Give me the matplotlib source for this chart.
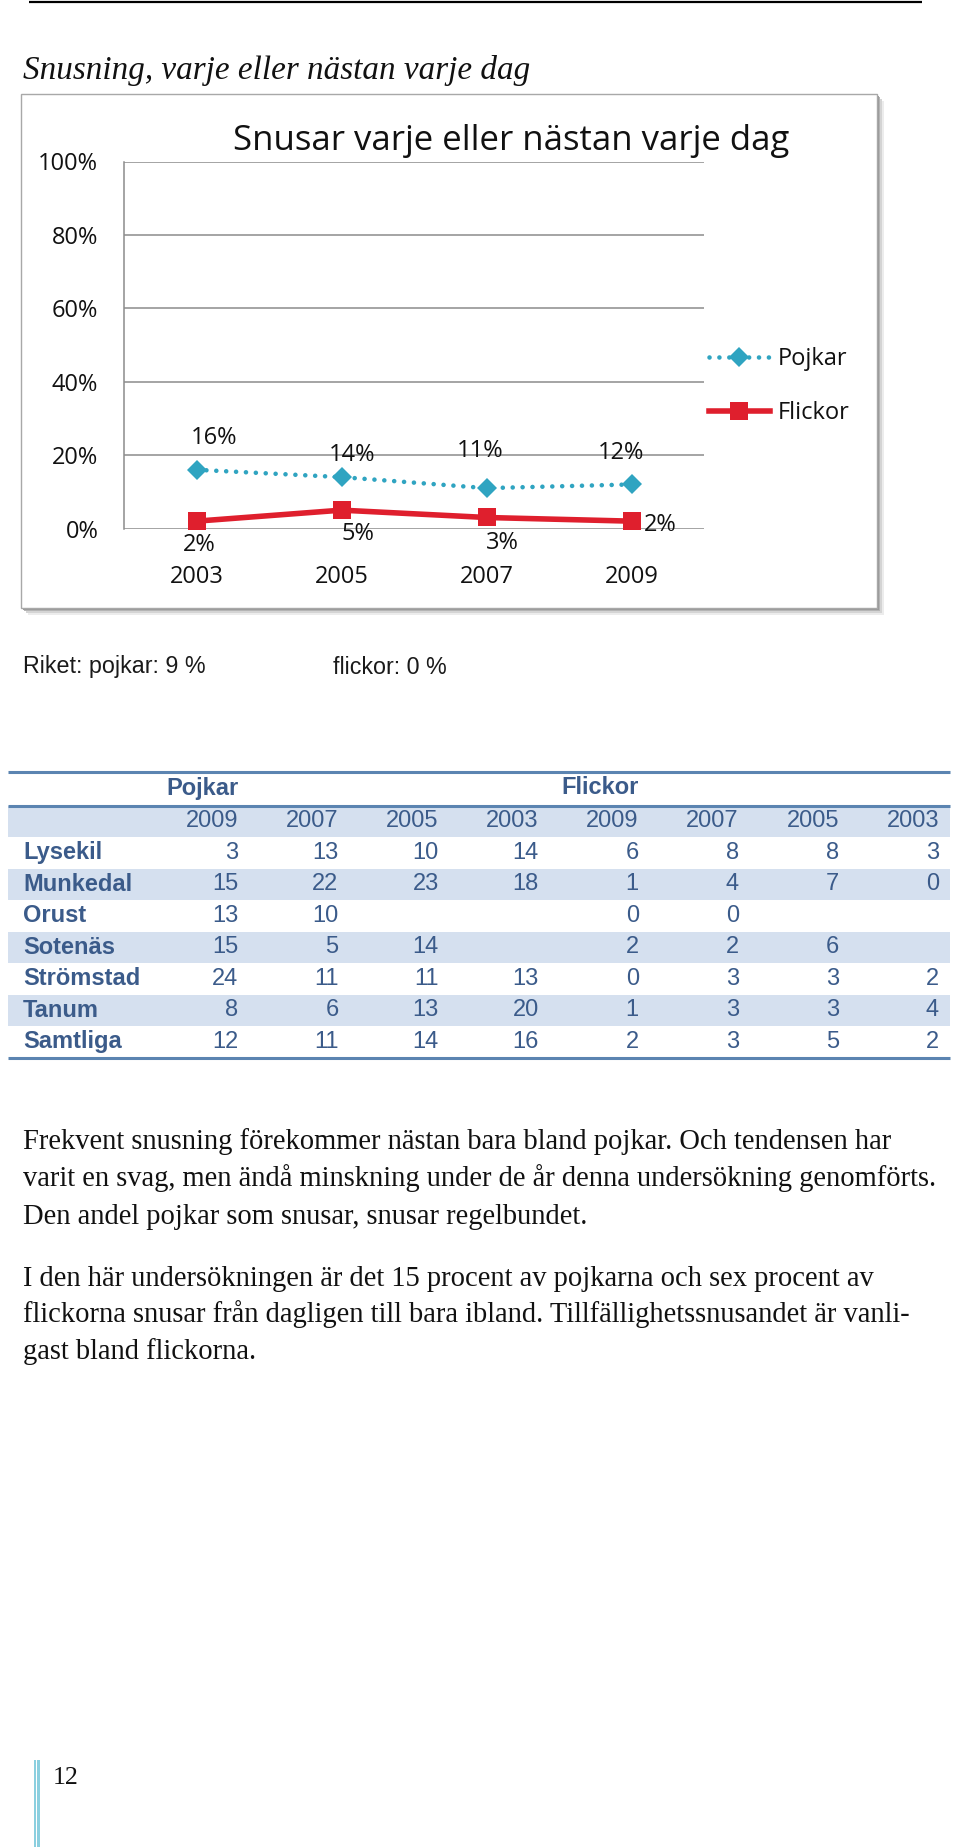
import matplotlib
matplotlib.use('Agg')
import matplotlib.pyplot as plt
from matplotlib.patches import Rectangle
from matplotlib.ticker import PercentFormatter

W, H, DPI = 960, 1847, 100

# ---------------- data ----------------
years = ['2003', '2005', '2007', '2009']
pojkar = [16, 14, 11, 12]
flickor = [2, 5, 3, 2]
series_names = ['Pojkar', 'Flickor']
y_ticks = [0, 20, 40, 60, 80, 100]

table_regions = ['Lysekil', 'Munkedal', 'Orust', 'Sotenäs', 'Strömstad', 'Tanum', 'Samtliga']
table_years = ['2009', '2007', '2005', '2003']
table_pojkar = [[3, 13, 10, 14], [15, 22, 23, 18], [13, 10, None, None], [15, 5, 14, None],
                [24, 11, 11, 13], [8, 6, 13, 20], [12, 11, 14, 16]]
table_flickor = [[6, 8, 8, 3], [1, 4, 7, 0], [0, 0, None, None], [2, 2, 6, None],
                 [0, 3, 3, 2], [1, 3, 3, 4], [2, 3, 5, 2]]

section_title = 'Snusning, varje eller nästan varje dag'
chart_title = 'Snusar varje eller nästan varje dag'
riket_pojkar = 'Riket: pojkar: 9 %'
riket_flickor = 'flickor: 0 %'
paragraph1 = ['Frekvent snusning förekommer nästan bara bland pojkar. Och tendensen har',
              'varit en svag, men ändå minskning under de år denna undersökning genomförts.',
              'Den andel pojkar som snusar, snusar regelbundet.']
paragraph2 = ['I den här undersökningen är det 15 procent av pojkarna och sex procent av',
              'flickorna snusar från dagligen till bara ibland. Tillfällighetssnusandet är vanli-',
              'gast bland flickorna.']
page_number = '12'

# ---------------- styles ----------------
TEAL = '#2FA4C1'
RED = '#DF1F2D'
GRID = '#8C8C8C'
TBL_LINE = '#5B84B1'
TBL_SHADE = '#D5E0EF'
TBL_TEXT = '#3B5B8A'
plt.rcParams['font.family'] = ['Open Sans', 'DejaVu Sans']

fig = plt.figure(figsize=(W / DPI, H / DPI), dpi=DPI)
fig.patch.set_facecolor('white')
bg = fig.add_axes([0, 0, 1, 1])
bg.set_xlim(0, W)
bg.set_ylim(H, 0)
bg.axis('off')
renderer = fig.canvas.get_renderer()


def fit_text(ax, x, y, s, width, **kw):
    t = ax.text(x, y, s, fontsize=20, **kw)
    w = t.get_window_extent(renderer).width
    t.set_fontsize(20 * width / w)
    return t


# top rule
bg.plot([29, 922], [2, 2], color='black', lw=1.6, solid_capstyle='butt')

# section title
fit_text(bg, 23, 70, section_title, 507, family=['Liberation Serif'], style='italic',
         va='center', color='#111111')

# chart box with shadow
for off, col in [(7, '#ececec'), (5, '#d4d4d4'), (3, '#b4b4b4'), (1.5, '#9a9a9a')]:
    bg.add_patch(Rectangle((21 + off, 94 + off), 856, 514, facecolor=col, edgecolor='none'))
bg.add_patch(Rectangle((21, 94), 856, 514, facecolor='white', edgecolor='#a8a8a8', lw=1.0))

fit_text(bg, 511, 141, chart_title, 555, ha='center', va='center', color='#111111')

# chart axes
ax = fig.add_axes([124 / W, 1 - 528.5 / H, 580 / W, 367 / H])
ax.set_facecolor('none')
ax.set_xlim(-0.5, 3.5)
ax.set_ylim(0, 100)
x = list(range(len(years)))
ax.plot(x, pojkar, color=TEAL, lw=3.3, ls=(0, (0.01, 2.15)), dash_capstyle='round',
        marker='D', ms=10.5, mfc=TEAL, mew=0, clip_on=False, zorder=4, label=series_names[0])
ax.plot(x, flickor, color=RED, lw=4, marker='s', ms=13, mfc=RED, mew=0,
        clip_on=False, zorder=5, label=series_names[1])
ax.set_yticks(y_ticks)
ax.yaxis.set_major_formatter(PercentFormatter(decimals=0))
ax.grid(axis='y', color=GRID, lw=1.1)
ax.set_axisbelow(True)
for side in ['top', 'right', 'bottom']:
    ax.spines[side].set_visible(False)
ax.spines['left'].set_color(GRID)
ax.spines['left'].set_linewidth(1.1)
ax.tick_params(axis='y', length=0, pad=18.5, labelsize=17, labelcolor='#111111')
ax.set_xticks(x, years)
ax.tick_params(axis='x', length=0, pad=35, labelsize=17, labelcolor='#111111')
for lbl in ax.get_xticklabels():
    lbl.set_va('center')

pojkar_label_offsets = [(18, 32), (11, 22), (-6, 37), (-11, 31)]
flickor_label_offsets = [(3, -24), (16, -24), (16, -26), (29, -4)]
for i, v in enumerate(pojkar):
    ax.annotate(f'{v}%', (i, v), xytext=pojkar_label_offsets[i], textcoords='offset pixels',
                ha='center', va='center', fontsize=17, color='#111111', annotation_clip=False)
for i, v in enumerate(flickor):
    ax.annotate(f'{v}%', (i, v), xytext=flickor_label_offsets[i], textcoords='offset pixels',
                ha='center', va='center', fontsize=17, color='#111111', annotation_clip=False)

ax.legend(loc='center left', bbox_to_anchor=(709 / W, 1 - 386 / H), bbox_transform=fig.transFigure,
          frameon=False, fontsize=17, handlelength=2.58, handletextpad=0.34, labelspacing=1.27,
          borderpad=0, borderaxespad=0, labelcolor='#111111')

# Riket line
t = fit_text(bg, 23, 667, riket_pojkar, 182, family=['Liberation Sans'], va='center', color='#1a1a1a')
bg.text(333, 667, riket_flickor, fontsize=t.get_fontsize(), family=['Liberation Sans'],
        va='center', color='#1a1a1a')

# table
tx0, tx1 = 8, 950
col_right = [238.5 + 100.07 * i for i in range(8)]
row_top = 805.5
row_h = 31.5
TFS = 17
shade_rows = [0, 2, 4, 6]  # year row, Munkedal, Sotenäs, Tanum
for r in shade_rows:
    bg.add_patch(Rectangle((tx0, row_top + r * row_h), tx1 - tx0, row_h, facecolor=TBL_SHADE,
                           edgecolor='none'))
for yl in [771.5, 805.5, 1058]:
    bg.plot([tx0, tx1], [yl, yl], color=TBL_LINE, lw=2.2, solid_capstyle='butt')
bg.text(col_right[0], 788, series_names[0], ha='right', va='center', fontsize=TFS,
        family=['Liberation Sans'], weight='bold', color=TBL_TEXT)
bg.text(col_right[4], 788, series_names[1], ha='right', va='center', fontsize=TFS,
        family=['Liberation Sans'], weight='bold', color=TBL_TEXT)
yc = row_top + row_h / 2
for j, yr in enumerate(table_years + table_years):
    bg.text(col_right[j], yc, yr, ha='right', va='center', fontsize=TFS,
            family=['Liberation Sans'], color=TBL_TEXT)
for i, reg in enumerate(table_regions):
    yc = row_top + (i + 1.5) * row_h
    bg.text(23, yc, reg, ha='left', va='center', fontsize=TFS, family=['Liberation Sans'],
            weight='bold', color=TBL_TEXT)
    vals = table_pojkar[i] + table_flickor[i]
    for j, v in enumerate(vals):
        if v is not None:
            bg.text(col_right[j], yc, str(v), ha='right', va='center', fontsize=TFS,
                    family=['Liberation Sans'], color=TBL_TEXT)

# paragraphs
pt = fit_text(bg, 23, 1149, paragraph1[0], 870, family=['Liberation Serif'], va='baseline',
              color='#111111')
pfs = pt.get_fontsize()
for k, line in enumerate(paragraph1[1:], start=1):
    bg.text(23, 1149 + 37.5 * k, line, fontsize=pfs, family=['Liberation Serif'],
            va='baseline', color='#111111')
for k, line in enumerate(paragraph2):
    bg.text(23, 1286 + 36.5 * k, line, fontsize=pfs, family=['Liberation Serif'],
            va='baseline', color='#111111')

# page number with bar
bg.add_patch(Rectangle((33.5, 1760), 2.5, 87, facecolor='#8BCFDF', edgecolor='none'))
bg.add_patch(Rectangle((37, 1760), 3, 87, facecolor='#8BCFDF', edgecolor='none'))
fit_text(bg, 53, 1778, page_number, 26, family=['Liberation Serif'], va='center', color='#111111')

fig.savefig('out.png', dpi=DPI, facecolor='white')
